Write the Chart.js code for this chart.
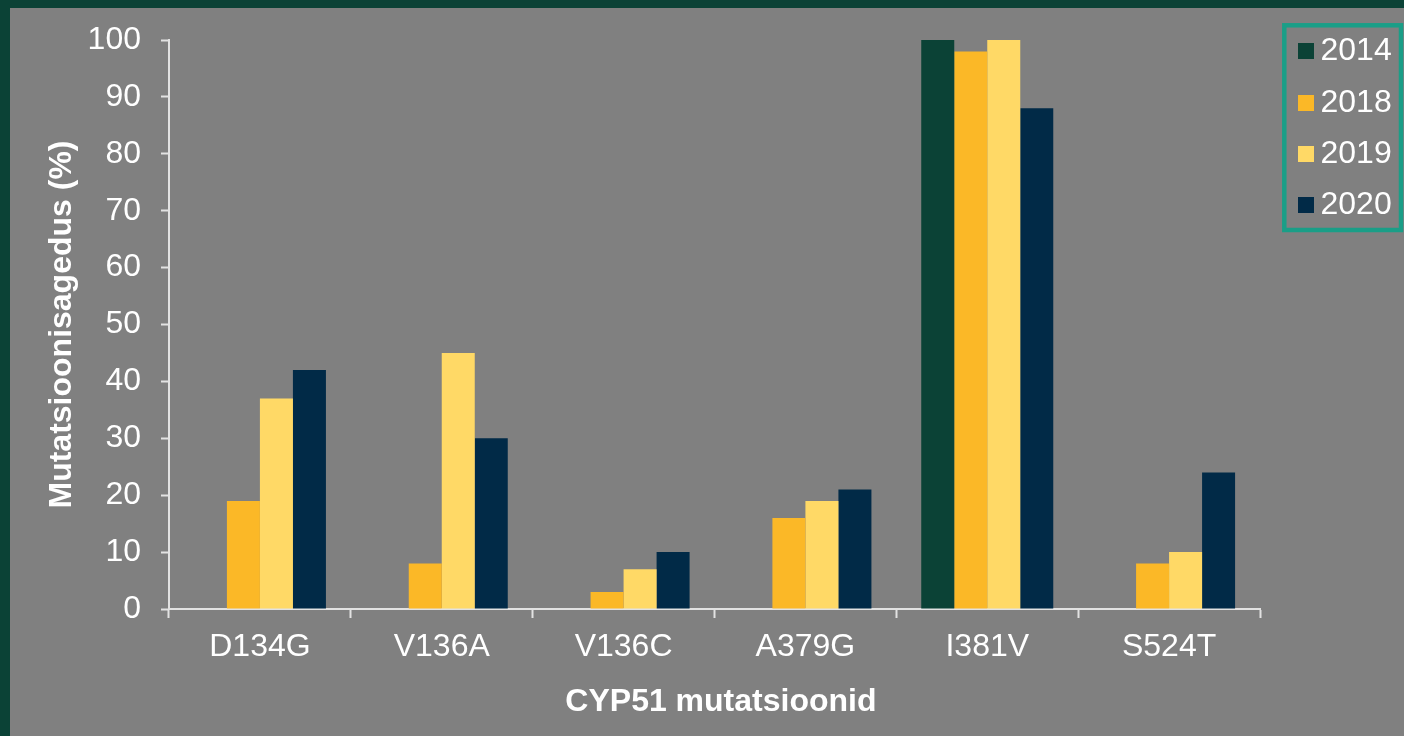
<!DOCTYPE html>
<html>
<head>
<meta charset="utf-8">
<script src="https://cdn.jsdelivr.net/npm/chart.js@4/dist/chart.umd.min.js"></script>
<style>
  html, body { margin: 0; padding: 0; background: #0B4236; }
  #wrap { position: absolute; left: 0; top: 0; width: 1404px; height: 736px; }
</style>
</head>
<body>
<div id="wrap"><canvas id="c" width="1404" height="736"></canvas></div>
<script>
const categories = ['D134G', 'V136A', 'V136C', 'A379G', 'I381V', 'S524T'];
const seriesLabels = ['2014', '2018', '2019', '2020'];
const values2014 = [0, 0, 0, 0, 100, 0];
const values2018 = [19, 8, 3, 16, 98, 8];
const values2019 = [37, 45, 7, 19, 100, 10];
const values2020 = [42, 30, 10, 21, 88, 24];
const seriesColors = ['#0B4236', '#FBB827', '#FFD966', '#012A47'];
const yTitle = 'Mutatsioonisagedus (%)';
const xTitle = 'CYP51 mutatsioonid';

const FONT = "'Liberation Sans', Arial, sans-serif";
const AXIS = '#e2e2e2';

const bgPlugin = {
  id: 'bg',
  beforeDraw(chart) {
    const ctx = chart.ctx;
    ctx.save();
    ctx.fillStyle = '#0B4236';
    ctx.fillRect(0, 0, chart.width, chart.height);
    ctx.fillStyle = '#808080';
    ctx.fillRect(10, 8, chart.width - 10, chart.height - 8);
    ctx.restore();
  }
};

const legendPlugin = {
  id: 'boxLegend',
  afterDraw(chart) {
    const ctx = chart.ctx;
    ctx.save();
    ctx.strokeStyle = '#1A9E87';
    ctx.lineWidth = 4.5;
    ctx.strokeRect(1284.3, 25.3, 1401 - 1284.3, 230 - 25.3);
    const ys = [51, 103, 154, 205];
    ctx.font = '32px ' + FONT;
    ctx.textBaseline = 'middle';
    ctx.textAlign = 'left';
    chart.data.datasets.forEach((ds, i) => {
      ctx.fillStyle = ds.backgroundColor;
      ctx.fillRect(1298, ys[i] - 8, 16, 16);
      ctx.fillStyle = '#ffffff';
      ctx.fillText(ds.label, 1320.5, ys[i] + 0.5);
    });
    ctx.restore();
  }
};

const allValues = [values2014, values2018, values2019, values2020];

new Chart(document.getElementById('c'), {
  type: 'bar',
  data: {
    labels: categories,
    datasets: seriesLabels.map((lab, i) => ({
      label: lab,
      data: allValues[i],
      backgroundColor: seriesColors[i],
      borderWidth: 0,
      categoryPercentage: 0.726,
      barPercentage: 1.0
    }))
  },
  options: {
    responsive: false,
    animation: false,
    devicePixelRatio: 1,
    layout: { padding: { left: 10, top: 40, right: 144, bottom: 0 } },
    plugins: {
      legend: { display: false },
      tooltip: { enabled: false }
    },
    scales: {
      x: {
        offset: true,
        grid: {
          offset: true,
          drawOnChartArea: false,
          drawTicks: true,
          tickLength: 9,
          tickWidth: 2,
          color: AXIS
        },
        border: { display: true, color: AXIS, width: 2 },
        ticks: {
          color: '#ffffff',
          font: { family: FONT, size: 32 },
          padding: 10,
          maxRotation: 0,
          autoSkip: false
        },
        title: {
          display: true,
          text: '\u2009\u2009' + xTitle,
          color: '#ffffff',
          font: { family: FONT, size: 32, weight: 'bold', lineHeight: 1.2 },
          padding: { top: 0, bottom: 14.6 }
        },
        afterFit(scale) { scale.height = 127; }
      },
      y: {
        min: 0,
        max: 100,
        ticks: {
          stepSize: 10,
          color: '#ffffff',
          font: { family: FONT, size: 32 },
          padding: 20
        },
        grid: {
          drawOnChartArea: false,
          drawTicks: true,
          tickLength: 8,
          tickWidth: 2,
          color: AXIS
        },
        border: { display: true, color: AXIS, width: 2 },
        title: {
          display: true,
          text: yTitle,
          color: '#ffffff',
          font: { family: FONT, size: 32, weight: 'bold', lineHeight: 1.2 },
          padding: { top: 32.6, bottom: 0 }
        },
        afterFit(scale) { scale.width = 159; }
      }
    }
  },
  plugins: [bgPlugin, legendPlugin]
});
</script>
</body>
</html>
